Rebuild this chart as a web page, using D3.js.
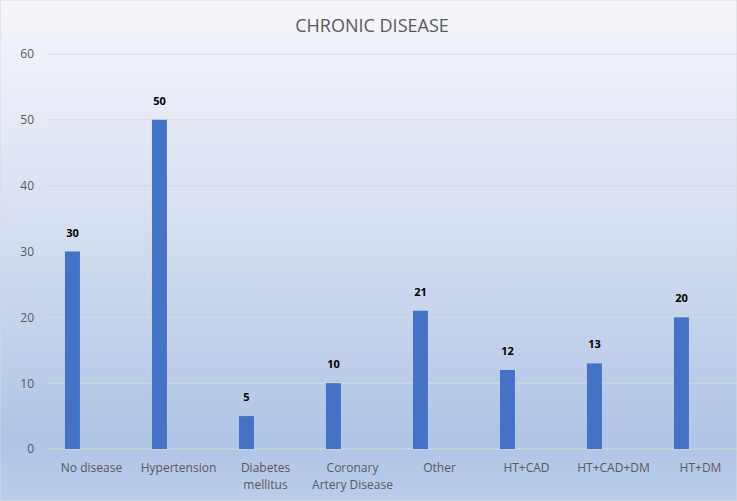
<!DOCTYPE html>
<html>
<head>
<meta charset="utf-8">
<script src="https://cdn.jsdelivr.net/npm/d3@7"></script>
<style>
  body { margin: 0; }
  svg text { font-family: "Open Sans", "Liberation Sans", sans-serif; }
</style>
</head>
<body>
<div id="canvas"></div>
<script>
// data
var categories = ['No disease', 'Hypertension', 'Diabetes mellitus', 'Coronary Artery Disease', 'Other', 'HT+CAD', 'HT+CAD+DM', 'HT+DM'];
var counts = [30, 50, 5, 10, 21, 12, 13, 20];
var yTicks = [0, 10, 20, 30, 40, 50, 60];
var title = 'CHRONIC DISEASE';

// category labels wrap onto two lines where Excel did
var labelLines = {
  'Diabetes mellitus': ['Diabetes', 'mellitus'],
  'Coronary Artery Disease': ['Coronary', 'Artery Disease']
};

var data = categories.map(function(c, i) { return {cat: c, count: counts[i]}; });

var W = 737, H = 501;
var m = {t: 54, r: -7, b: 52, l: 48},
    w = W - m.l - m.r,
    h = H - m.t - m.b;

var svg = d3.select('#canvas').append('svg')
    .attr('width', W)
    .attr('height', H);

var defs = svg.append('defs');
var grad = defs.append('linearGradient')
    .attr('id', 'bg')
    .attr('x1', 0).attr('y1', 0).attr('x2', 0).attr('y2', 1);
grad.append('stop').attr('offset', '0%').attr('stop-color', '#f6f7fb');
grad.append('stop').attr('offset', '45%').attr('stop-color', '#d6dff1');
grad.append('stop').attr('offset', '88%').attr('stop-color', '#b0c4e6');
grad.append('stop').attr('offset', '100%').attr('stop-color', '#bccdeb');

svg.append('rect')
    .attr('width', W).attr('height', H)
    .attr('fill', 'url(#bg)')
    .attr('stroke', '#d9d9d9');

svg.append('text')
    .attr('x', 372).attr('y', 32)
    .attr('text-anchor', 'middle')
    .style('font-size', '18px')
    .style('fill', '#595959')
    .text(title);

var plot = svg.append('g')
    .attr('transform', 'translate(' + m.l + ',' + m.t + ')');

// scales
var x = d3.scaleBand()
    .domain(categories)
    .range([0, w]);

var y = d3.scaleLinear()
    .domain([0, 60])
    .range([h, 0]);

// gridlines
plot.append('g').selectAll('line').data(yTicks).enter()
  .append('line')
    .attr('x1', 0).attr('x2', w)
    .attr('y1', function(d) { return y(d); })
    .attr('y2', function(d) { return y(d); })
    .attr('stroke', '#d9d9d9')
    .attr('stroke-width', 1);

// y axis
var yAxis = d3.axisLeft(y).tickValues(yTicks).tickSize(0).tickPadding(14);
var gy = plot.append('g').call(yAxis);
gy.select('.domain').remove();
gy.selectAll('text')
    .style('font-size', '12px')
    .style('fill', '#595959');

// x axis labels
var gx = plot.append('g').attr('transform', 'translate(0,' + h + ')');
gx.selectAll('text').data(categories).enter()
  .append('text')
    .attr('x', function(d) { return x(d) + x.bandwidth() / 2; })
    .attr('y', 23)
    .attr('text-anchor', 'middle')
    .style('font-size', '12px')
    .style('fill', '#595959')
    .each(function(d) {
      var lines = labelLines[d] || [d];
      var t = d3.select(this);
      lines.forEach(function(l, i) {
        t.append('tspan')
          .attr('x', x(d) + x.bandwidth() / 2)
          .attr('dy', i === 0 ? 0 : 17)
          .text(l);
      });
    });

// bars sit left of the band centre
var barOff = 0.195, barW = 0.172;
plot.selectAll('rect.bar').data(data).enter()
  .append('rect')
    .attr('class', 'bar')
    .attr('x', function(d) { return x(d.cat) + x.bandwidth() * barOff; })
    .attr('width', x.bandwidth() * barW)
    .attr('y', function(d) { return y(d.count); })
    .attr('height', function(d) { return h - y(d.count); })
    .style('fill', '#4472c4');

// value labels
plot.selectAll('text.val').data(data).enter()
  .append('text')
    .attr('class', 'val')
    .attr('x', function(d) { return x(d.cat) + x.bandwidth() * (barOff + barW / 2); })
    .attr('y', function(d) { return y(d.count) - 15; })
    .attr('text-anchor', 'middle')
    .style('font-size', '11px')
    .style('font-weight', 'bold')
    .style('fill', '#000')
    .text(function(d) { return d.count; });
</script>
</body>
</html>
